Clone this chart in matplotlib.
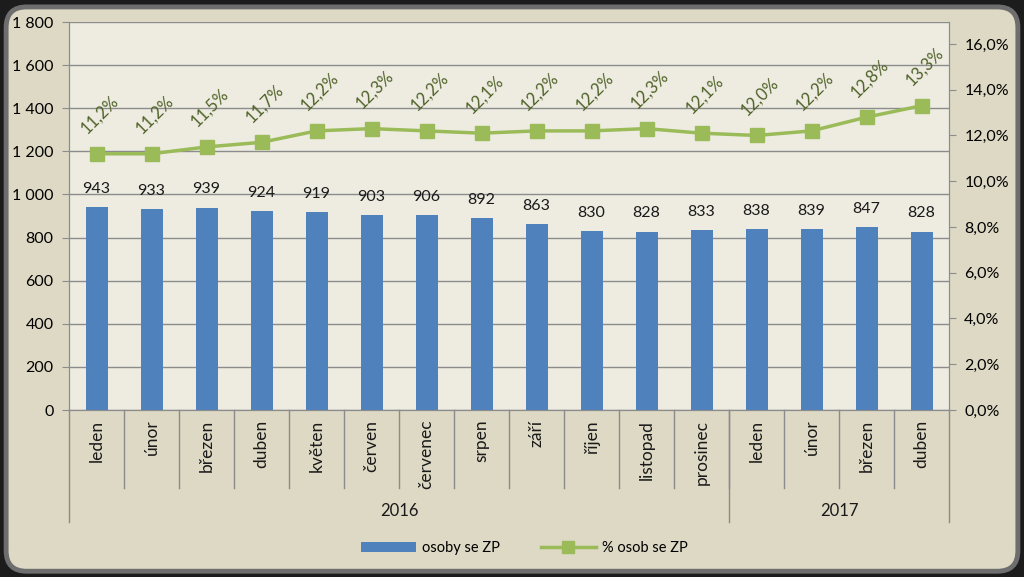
import matplotlib.pyplot as plt
from matplotlib.patches import FancyBboxPatch
from matplotlib.lines import Line2D
from matplotlib.patches import Patch
import numpy as np

# Daten
mesice = ['leden', 'únor', 'březen', 'duben', 'květen', 'červen', 'červenec', 'srpen',
          'září', 'říjen', 'listopad', 'prosinec', 'leden', 'únor', 'březen', 'duben']
roky = ['2016', '2017']
pocet_mesicu = [12, 4]
osoby = [943, 933, 939, 924, 919, 903, 906, 892, 863, 830, 828, 833, 838, 839, 847, 828]
procenta = [11.2, 11.2, 11.5, 11.7, 12.2, 12.3, 12.2, 12.1, 12.2, 12.2, 12.3, 12.1, 12.0, 12.2, 12.8, 13.3]

plt.rcParams['font.family'] = ['Lato', 'DejaVu Sans']

modra = '#4F81BD'
zelena = '#9BBB59'
text_zelena = '#4F6228'
mrizka = '#8C8C8C'

fig = plt.figure(figsize=(10.24, 5.77), dpi=100, facecolor='#1c1c1c')

# Ramecek (bezovy panel se zaoblenymi rohy)
panel = FancyBboxPatch((0.006, 0.01), 0.988, 0.978, boxstyle='round,pad=0,rounding_size=0.02',
                       transform=fig.transFigure, facecolor='#DDD9C4', edgecolor='#6e6e6e',
                       linewidth=3.5, mutation_aspect=1024 / 577, zorder=-10)
fig.patches.append(panel)

ax = fig.add_axes([69 / 1024, 1 - 410 / 577, 880 / 1024, 388 / 577])
ax.set_facecolor('#EEECE1')

x = np.arange(len(mesice))
bars = ax.bar(x, osoby, width=0.4, color=modra, zorder=3)
ax.set_xlim(-0.5, len(mesice) - 0.5)
ax.set_ylim(0, 1800)
ax.set_yticks(range(0, 1801, 200))
ax.set_yticklabels([f'{v:,}'.replace(',', ' ') for v in range(0, 1801, 200)], fontsize=11.5)
ax.yaxis.grid(True, color=mrizka, linewidth=1, zorder=0)
ax.set_axisbelow(True)
ax.set_xticks([])
ax.tick_params(axis='y', length=5, color=mrizka, pad=6)
for s in ['top']:
    ax.spines[s].set_visible(False)
for s in ['left', 'bottom', 'right']:
    ax.spines[s].set_color(mrizka)

# popisky sloupcu
for xi, v in zip(x, osoby):
    ax.annotate(str(v), (xi, v), xytext=(0, 8), textcoords='offset points',
                ha='center', va='bottom', fontsize=11.5, color='#1a1a1a')

# druha osa - procenta
ax2 = ax.twinx()
ax2.plot(x, np.array(procenta) / 100, color=zelena, linewidth=2.5, marker='s',
         markersize=10, zorder=4)
ax2.set_ylim(0, 0.1696)
ax2.set_yticks(np.arange(0, 0.161, 0.02))
ax2.set_yticklabels([f'{v * 100:.1f}%'.replace('.', ',') for v in np.arange(0, 0.161, 0.02)],
                    fontsize=11.5)
ax2.tick_params(axis='y', length=5, color=mrizka, pad=6)
for s in ['top']:
    ax2.spines[s].set_visible(False)
for s in ['left', 'bottom', 'right']:
    ax2.spines[s].set_color(mrizka)

for xi, p in zip(x, procenta):
    ax2.annotate(f'{p:.1f}%'.replace('.', ','), (xi, p / 100), xytext=(2, 28),
                 textcoords='offset points', ha='center', va='center', rotation=45,
                 fontsize=12, color=text_zelena)

# dvouurovnova kategorie
tr = ax.get_xaxis_transform()
for xi, m in zip(x, mesice):
    ax.text(xi, -0.025, m, transform=tr, rotation=90, ha='center', va='top',
            fontsize=12.5, color='#1a1a1a')
for b in np.arange(0.5, len(mesice) - 1, 1):
    ax.plot([b, b], [0, -0.201], transform=tr, color=mrizka, linewidth=1, clip_on=False)

hranice = [-0.5]
for n in pocet_mesicu:
    hranice.append(hranice[-1] + n)
for b in hranice:
    ax.plot([b, b], [0, -0.289], transform=tr, color=mrizka, linewidth=1, clip_on=False)
for i, r in enumerate(roky):
    ax.text((hranice[i] + hranice[i + 1]) / 2, -0.26, r, transform=tr, ha='center',
            va='center', fontsize=12, color='#1a1a1a')

# legenda
handles = [Patch(facecolor=modra, label='osoby se ZP'),
           Line2D([0], [0], color=zelena, linewidth=2.5, marker='s', markersize=9,
                  label='% osob se ZP')]
fig.legend(handles=handles, loc='center', bbox_to_anchor=(0.512, 1 - 548 / 577), ncol=2,
           frameon=False, fontsize=10.5, handlelength=3.8, handletextpad=0.4,
           columnspacing=2.8)

fig.savefig('out.png', dpi=100, facecolor=fig.get_facecolor())
